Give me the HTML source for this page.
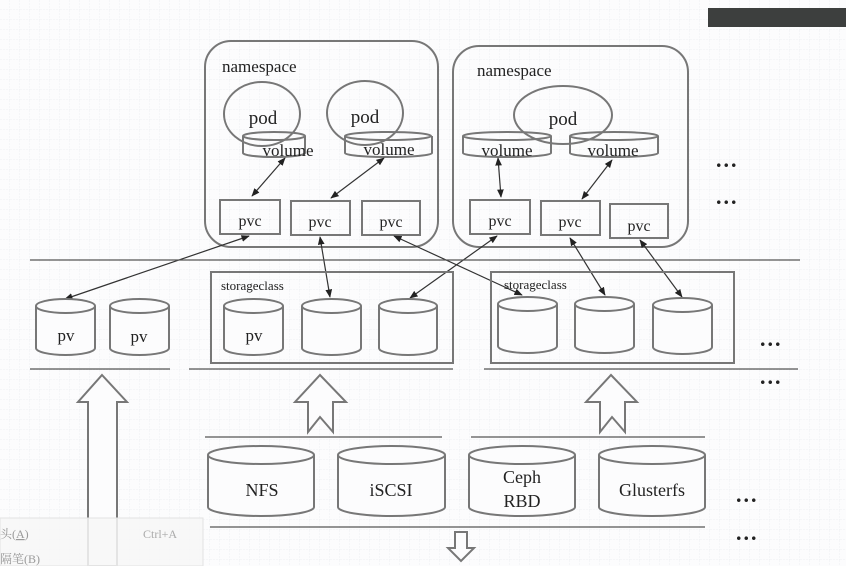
<!DOCTYPE html>
<html><head><meta charset="utf-8"><style>
html,body{margin:0;padding:0;background:#fff}
svg{display:block}
text{font-family:"Liberation Serif","Noto Serif CJK SC",serif;fill:#222}
</style></head><body>
<svg width="846" height="566" viewBox="0 0 846 566" xmlns="http://www.w3.org/2000/svg">
<defs>
<pattern id="g" width="10" height="10" patternUnits="userSpaceOnUse">
<path d="M10 0V10H0" fill="none" stroke="#eef0f4" stroke-width="1" stroke-dasharray="2 1"/>
</pattern>
<marker id="a" viewBox="0 0 10 10" refX="9" refY="5" markerWidth="7" markerHeight="7" orient="auto-start-reverse">
<path d="M0 1L10 5L0 9z" fill="#222"/>
</marker>
</defs>
<rect width="846" height="566" fill="#fcfcfd"/>
<rect width="846" height="566" fill="url(#g)"/>
<rect x="708" y="8" width="138" height="19" fill="#3d3f3e"/>

<g fill="none" stroke="#777" stroke-width="2">
<rect x="205" y="41" width="233" height="206" rx="26"/>
<rect x="453" y="46" width="235" height="201" rx="26"/>
</g>
<g font-size="17">
<text x="222" y="72">namespace</text>
<text x="477" y="76">namespace</text>
</g>

<g fill="none" stroke="#777" stroke-width="2">
<ellipse cx="262" cy="114" rx="38" ry="32"/>
<ellipse cx="365" cy="113" rx="38" ry="32"/>
<ellipse cx="563" cy="115" rx="49" ry="29"/>
</g>
<g font-size="19" text-anchor="middle">
<text x="263" y="124">pod</text>
<text x="365" y="123">pod</text>
<text x="563" y="125">pod</text>
</g>

<g fill="none" stroke="#777" stroke-width="2">
<path d="M243 136V153A31 4 0 0 0 305 153V136"/><ellipse cx="274" cy="136" rx="31" ry="4"/>
<path d="M345 136V153A43 4 0 0 0 432 153V136"/><ellipse cx="388" cy="136" rx="43" ry="4"/>
<path d="M463 136V153A44 4 0 0 0 551 153V136"/><ellipse cx="507" cy="136" rx="44" ry="4"/>
<path d="M570 136V153A44 4 0 0 0 658 153V136"/><ellipse cx="614" cy="136" rx="44" ry="4"/>
</g>
<g font-size="17" text-anchor="middle">
<text x="288" y="156">volume</text>
<text x="389" y="155">volume</text>
<text x="507" y="156">volume</text>
<text x="613" y="156">volume</text>
</g>

<g fill="none" stroke="#777" stroke-width="2">
<rect x="220" y="200" width="60" height="34"/>
<rect x="291" y="201" width="59" height="34"/>
<rect x="362" y="201" width="58" height="34"/>
<rect x="470" y="200" width="60" height="34"/>
<rect x="541" y="201" width="59" height="34"/>
<rect x="610" y="204" width="58" height="34"/>
</g>
<g font-size="16" text-anchor="middle">
<text x="250" y="226">pvc</text>
<text x="320" y="227">pvc</text>
<text x="391" y="227">pvc</text>
<text x="500" y="226">pvc</text>
<text x="570" y="227">pvc</text>
<text x="639" y="231">pvc</text>
</g>

<g stroke="#333" stroke-width="1.2" marker-start="url(#a)" marker-end="url(#a)">
<line x1="285" y1="158" x2="252" y2="196"/>
<line x1="384" y1="158" x2="331" y2="198"/>
<line x1="498" y1="158" x2="501" y2="197"/>
<line x1="612" y1="160" x2="582" y2="199"/>
<line x1="249" y1="236" x2="65" y2="299"/>
<line x1="320" y1="237" x2="330" y2="297"/>
<line x1="394" y1="236" x2="522" y2="295"/>
<line x1="497" y1="236" x2="410" y2="298"/>
<line x1="570" y1="238" x2="605" y2="295"/>
<line x1="640" y1="240" x2="682" y2="297"/>
</g>

<g stroke="#555" stroke-width="1.2">
<line x1="30" y1="260" x2="800" y2="260"/>
<line x1="30" y1="369" x2="170" y2="369"/>
<line x1="189" y1="369" x2="453" y2="369"/>
<line x1="484" y1="369" x2="798" y2="369"/>
<line x1="205" y1="437" x2="442" y2="437"/>
<line x1="471" y1="437" x2="705" y2="437"/>
<line x1="210" y1="527" x2="705" y2="527"/>
</g>

<g fill="none" stroke="#777" stroke-width="2">
<rect x="211" y="272" width="242" height="91"/>
<rect x="491" y="272" width="243" height="91"/>
</g>
<g font-size="13">
<text x="221" y="290">storageclass</text>
<text x="504" y="289">storageclass</text>
</g>

<g fill="#fcfcfd" stroke="#777" stroke-width="2">
<path d="M36 306V348A29.5 7 0 0 0 95 348V306"/><ellipse cx="65.5" cy="306" rx="29.5" ry="7"/>
<path d="M110 306V348A29.5 7 0 0 0 169 348V306"/><ellipse cx="139.5" cy="306" rx="29.5" ry="7"/>
<path d="M224 306V348A29.5 7 0 0 0 283 348V306"/><ellipse cx="253.5" cy="306" rx="29.5" ry="7"/>
<path d="M302 306V348A29.5 7 0 0 0 361 348V306"/><ellipse cx="331.5" cy="306" rx="29.5" ry="7"/>
<path d="M379 306V348A29 7 0 0 0 437 348V306"/><ellipse cx="408" cy="306" rx="29" ry="7"/>
<path d="M498 304V346A29.5 7 0 0 0 557 346V304"/><ellipse cx="527.5" cy="304" rx="29.5" ry="7"/>
<path d="M575 304V346A29.5 7 0 0 0 634 346V304"/><ellipse cx="604.5" cy="304" rx="29.5" ry="7"/>
<path d="M653 305V347A29.5 7 0 0 0 712 347V305"/><ellipse cx="682.5" cy="305" rx="29.5" ry="7"/>
</g>
<g font-size="17" text-anchor="middle">
<text x="66" y="341">pv</text>
<text x="139" y="342">pv</text>
<text x="254" y="341">pv</text>
</g>

<g fill="#fcfcfd" stroke="#777" stroke-width="2">
<path d="M102 375L127 402H117V566H88V402H78Z"/>
<path d="M320 375L346 402H333V432L320 417L308 432V402H295Z"/>
<path d="M611 375L637 402H625V432L612 417L600 432V402H586Z"/>
<path d="M455 532H467V548H474L461 561L448 548H455Z"/>
</g>

<g fill="#fcfcfd" stroke="#777" stroke-width="2">
<path d="M208 455V507A53 9 0 0 0 314 507V455"/><ellipse cx="261" cy="455" rx="53" ry="9"/>
<path d="M338 455V507A53.5 9 0 0 0 445 507V455"/><ellipse cx="391.5" cy="455" rx="53.5" ry="9"/>
<path d="M469 455V507A53 9 0 0 0 575 507V455"/><ellipse cx="522" cy="455" rx="53" ry="9"/>
<path d="M599 455V507A53 9 0 0 0 705 507V455"/><ellipse cx="652" cy="455" rx="53" ry="9"/>
</g>
<g font-size="18" text-anchor="middle">
<text x="262" y="496">NFS</text>
<text x="391" y="496">iSCSI</text>
<text x="522" y="483">Ceph</text>
<text x="522" y="507">RBD</text>
<text x="652" y="496">Glusterfs</text>
</g>

<g font-size="22" font-weight="bold" letter-spacing="2">
<text x="716" y="167">...</text>
<text x="716" y="204">...</text>
<text x="760" y="346">...</text>
<text x="760" y="384">...</text>
<text x="736" y="502">...</text>
<text x="736" y="540">...</text>
</g>

<rect x="0" y="518" width="203" height="48" fill="#f7f7f7" fill-opacity="0.85" stroke="#e2e2e2"/>
<g font-size="12">
<text x="0" y="538" style="fill:#999">头(<tspan text-decoration="underline">A</tspan>)</text>
<text x="143" y="538" style="fill:#aaa">Ctrl+A</text>
<text x="0" y="563" style="fill:#999">隔笔(B)</text>
</g>
</svg>
</body></html>
